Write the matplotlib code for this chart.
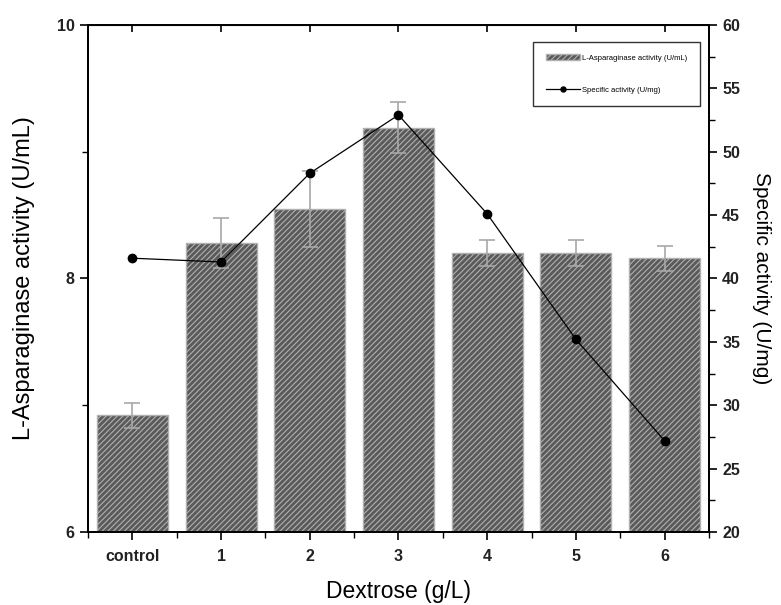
import numpy as np
import matplotlib
matplotlib.use("Agg")
import matplotlib.pyplot as plt
from matplotlib.ticker import MultipleLocator

# data
categories = ["control", "1", "2", "3", "4", "5", "6"]
enzyme_activity = [6.92, 8.28, 8.55, 9.19, 8.20, 8.20, 8.16]   # U/mL
enzyme_err = [0.10, 0.20, 0.30, 0.20, 0.10, 0.10, 0.10]
specific_activity = [41.6, 41.3, 48.3, 52.9, 45.1, 35.2, 27.2]  # U/mg

plt.rcParams['font.family'] = ['Liberation Sans', 'DejaVu Sans']
plt.rcParams['hatch.color'] = '#9a9a9a'
plt.rcParams['hatch.linewidth'] = 0.8

fig = plt.figure(figsize=(7.81, 6.05), dpi=100)
ax = fig.add_axes([0.1127, 0.1207, 0.795, 0.838])

x = np.arange(len(categories))
ax.bar(x, enzyme_activity, width=0.8, color='#5a5a5a', edgecolor='#b0b0b0',
       linewidth=1.0, hatch='//////', label='L-Asparaginase activity (U/mL)', zorder=2)
ax.errorbar(x, enzyme_activity, yerr=enzyme_err, fmt='none', ecolor='#a8a8a8',
            elinewidth=1.2, capsize=6, capthick=1.2, zorder=3)

ax.set_xlim(-0.5, 6.5)
ax.set_ylim(6, 10)
ax.set_xticks(x)
ax.set_xticklabels(categories)
ax.xaxis.set_minor_locator(MultipleLocator(0.5))
ax.yaxis.set_major_locator(MultipleLocator(2))
ax.yaxis.set_minor_locator(MultipleLocator(1))
ax.tick_params(axis='x', which='major', direction='out', length=6, width=1.2,
               labelsize=11.5, pad=6)
ax.tick_params(axis='x', which='minor', direction='out', length=4, width=1.0)
ax.tick_params(axis='y', which='major', direction='out', length=6, width=1.2, labelsize=11.5)
ax.tick_params(axis='y', which='minor', direction='out', length=4, width=1.0)
for lab in ax.get_xticklabels() + ax.get_yticklabels():
    lab.set_fontweight('bold')
    lab.set_color('#222222')
for sp in ax.spines.values():
    sp.set_linewidth(1.3)

# top axis ticks point inward
ax_top = ax.secondary_xaxis('top')
ax_top.set_xticks(x)
ax_top.tick_params(direction='in', length=5, width=1.2, labeltop=False)
ax_top.tick_params(which='minor', length=0)

ax.set_xlabel('Dextrose (g/L)', fontsize=16.5, labelpad=12)
ax.set_ylabel('L-Asparaginase activity (U/mL)', fontsize=17, labelpad=16)

ax2 = ax.twinx()
ax2.plot(x, specific_activity, color='black', linewidth=0.9, marker='o',
         markersize=6, label='Specific activity (U/mg)', zorder=4)
ax2.set_ylim(20, 60)
ax2.yaxis.set_major_locator(MultipleLocator(5))
ax2.yaxis.set_minor_locator(MultipleLocator(2.5))
ax2.tick_params(axis='y', which='major', direction='out', length=6, width=1.2, labelsize=11.5)
ax2.tick_params(axis='y', which='minor', direction='out', length=4, width=1.0)
for lab in ax2.get_yticklabels():
    lab.set_fontweight('bold')
    lab.set_color('#222222')
for sp in ax2.spines.values():
    sp.set_linewidth(1.3)
ax2.set_ylabel('Specific activity (U/mg)', fontsize=15, rotation=270, labelpad=22)

h1, l1 = ax.get_legend_handles_labels()
h2, l2 = ax2.get_legend_handles_labels()
leg = ax2.legend(h1 + h2, l1 + l2, loc='upper right', bbox_to_anchor=(0.985, 0.966),
                 fontsize=5.5, frameon=True, fancybox=False, edgecolor='black',
                 borderpad=1.6, labelspacing=3.2, handlelength=4.5, handletextpad=0.3,
                 borderaxespad=0, markerscale=0.6)
leg.get_frame().set_linewidth(1.0)

fig.savefig('out.png', dpi=100)
